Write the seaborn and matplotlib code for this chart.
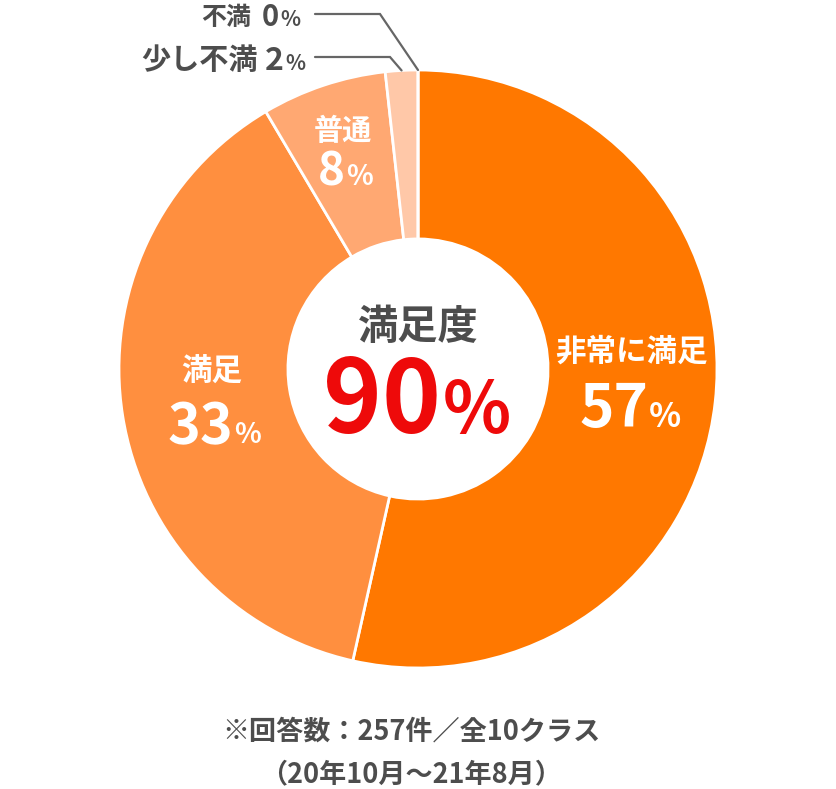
import numpy as np
import matplotlib
matplotlib.use("Agg")
import matplotlib.pyplot as plt
import seaborn as sns

# ---- data ----
categories = ["非常に満足", "満足", "普通", "少し不満", "不満"]
label_pct = [57, 33, 8, 2, 0]                 # printed percentages
slice_share = [53.5, 38.0, 6.75, 1.75, 0.0]   # wedge sizes as drawn in the reference
slice_colors = ["#ff7800", "#ff8f3f", "#ffa872", "#ffc8a8", "#ffe0cc"]
center_title = "満足度"
center_value = 90
note_lines = ["※回答数：257件／全10クラス", "（20年10月～21年8月）"]

sns.set_theme(style="white")
plt.rcParams['font.family'] = ['Noto Sans CJK JP', 'DejaVu Sans']

W, H = 836, 789
fig = plt.figure(figsize=(W / 100, H / 100), dpi=100)
ax = fig.add_axes([0, 0, 1, 1])

CX, CY, R = 418, 369, 299


def px(x, y):
    return ((x - CX) / R, (CY - y) / R)


ax.pie(slice_share, colors=slice_colors, startangle=90, counterclock=False,
       radius=1.0, wedgeprops=dict(width=0.565, edgecolor="white", linewidth=2))

ax.set_xlim(-CX / R, (W - CX) / R)
ax.set_ylim(-(H - CY) / R, CY / R)
ax.set_aspect("equal")
ax.axis("off")

DARK = "#4d4d4d"

# center
ax.text(*px(418, 339), center_title, ha="center", va="baseline",
        fontsize=29, fontweight="bold", color=DARK)
ax.text(*px(441, 433), f"{center_value}", ha="right", va="baseline",
        fontsize=72, fontweight="bold", color="#ee0a0a")
ax.text(*px(443, 433), "%", ha="left", va="baseline",
        fontsize=51, fontweight="bold", color="#ee0a0a")

# in-wedge labels
inside = [
    # idx, name_x, name_base, num_right, num_base, name_fs, num_fs, pct_fs
    (0, 631, 361, 648, 427, 22, 42, 24),
    (1, 212, 381, 233, 443, 22, 40, 20),
    (2, 343, 140, 345, 185, 21, 33, 20),
]
for i, nx, nb, rx, rb, nfs, vfs, pfs in inside:
    ax.text(*px(nx, nb), categories[i], ha="center", va="baseline",
            fontsize=nfs, fontweight="bold", color="white")
    ax.text(*px(rx, rb), f"{label_pct[i]}", ha="right", va="baseline",
            fontsize=vfs, fontweight="bold", color="white")
    ax.text(*px(rx + 1, rb), "%", ha="left", va="baseline",
            fontsize=pfs, fontweight="bold", color="white")

# outside labels with leader lines
total = sum(slice_share)
cum = np.cumsum([0] + slice_share)
outside = [
    # idx, name_right, num_right, baseline, name_fs, num_fs, line_y, knee_x
    (3, 258, 284, 70, 21, 23, 57, 390),
    (4, 251, 279, 26, 18, 21, 14, 380),
]
for i, nr, rr, base, nfs, vfs, ly, kx in outside:
    ax.text(*px(nr, base - 1), categories[i], ha="right", va="baseline",
            fontsize=nfs, fontweight="bold", color=DARK)
    ax.text(*px(rr, base), f"{label_pct[i]}", ha="right", va="baseline",
            fontsize=vfs, fontweight="bold", color=DARK)
    ax.text(*px(rr + 1, base), "%", ha="left", va="baseline",
            fontsize=15, fontweight="bold", color=DARK)
    # clockwise angle from top to the middle of the wedge
    mid = (cum[i] + slice_share[i] / 2) / total * 2 * np.pi
    ex, ey = np.sin(mid), np.cos(mid)
    x0, y0 = px(315, ly)
    x1, y1 = px(kx, ly)
    ax.plot([x0, x1, ex], [y0, y1, ey], color="#666666",
            lw=1.6, solid_joinstyle="miter")

# note
ax.text(*px(411, 740), note_lines[0], ha="center", va="baseline",
        fontsize=19.5, fontweight="bold", color=DARK)
ax.text(*px(411, 782), note_lines[1], ha="center", va="baseline",
        fontsize=19.5, fontweight="bold", color=DARK)

fig.savefig("out.png", dpi=100, facecolor="white")
